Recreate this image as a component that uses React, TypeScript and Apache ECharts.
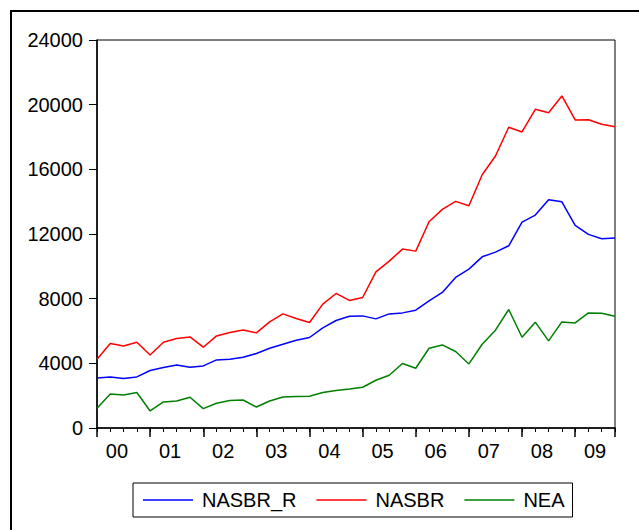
import React, { useEffect, useRef } from "react";
import * as echarts from "echarts";

const yearLabels = ["00", "01", "02", "03", "04", "05", "06", "07", "08", "09"];
const yTicks = { min: 0, max: 24000, interval: 4000 };

const nasbrR = [
  3096, 3158, 3059, 3158, 3554, 3740, 3901, 3758, 3839, 4211,
  4254, 4378, 4607, 4935, 5183, 5430, 5598, 6192, 6650, 6916,
  6935, 6749, 7059, 7121, 7288, 7864, 8384, 9313, 9827, 10588,
  10879, 11270, 12737, 13170, 14118, 13994, 12532, 11975, 11703, 11746,
];
const nasbr = [
  4254, 5226, 5078, 5307, 4520, 5307, 5535, 5635, 4997, 5697,
  5907, 6068, 5883, 6564, 7059, 6774, 6526, 7660, 8322, 7889,
  8074, 9660, 10322, 11065, 10941, 12756, 13523, 14018, 13746, 15666,
  16824, 18601, 18310, 19715, 19505, 20539, 19053, 19072, 18786, 18638,
];
const nea = [
  1220, 2105, 2043, 2192, 1053, 1610, 1672, 1901, 1201, 1529,
  1697, 1734, 1300, 1672, 1920, 1944, 1963, 2192, 2316, 2415,
  2520, 2954, 3263, 3988, 3697, 4935, 5139, 4731, 3963, 5183,
  6050, 7331, 5616, 6545, 5387, 6564, 6502, 7121, 7102, 6916,
];

const seriesDefs = [
  { name: "NASBR_R", color: "#0000ff", values: nasbrR },
  { name: "NASBR", color: "#ff0000", values: nasbr },
  { name: "NEA", color: "#008000", values: nea },
];

const FONT = "Arial, 'Liberation Sans', sans-serif";

export default function App() {
  const ref = useRef<HTMLDivElement>(null);
  useEffect(() => {
    if (!ref.current) return;
    const chart = echarts.init(ref.current, null, { renderer: "svg" });
    const lastIdx = nasbr.length - 1;
    chart.setOption({
      animation: false,
      backgroundColor: "#ffffff",
      textStyle: { fontFamily: FONT },
      grid: {
        left: 97,
        top: 40,
        width: 518,
        height: 388,
        show: true,
        borderColor: "#000",
        borderWidth: 1,
        backgroundColor: "transparent",
      },
      xAxis: [
        {
          type: "value",
          min: 0,
          max: lastIdx,
          interval: 1,
          axisLine: { show: true, onZero: false, lineStyle: { color: "#000", width: 1.5 } },
          axisTick: { show: true, length: 4, lineStyle: { color: "#000", width: 1 } },
          axisLabel: { show: false },
          splitLine: { show: false },
        },
        {
          type: "value",
          min: 0,
          max: lastIdx,
          interval: 4,
          position: "bottom",
          axisLine: { show: false, onZero: false },
          axisTick: { show: true, length: 9, lineStyle: { color: "#000", width: 1.5 } },
          axisLabel: { show: false },
          splitLine: { show: false },
        },
        {
          type: "value",
          min: 0,
          max: lastIdx,
          interval: 0.5,
          position: "bottom",
          axisLine: { show: false, onZero: false },
          axisTick: { show: false },
          splitLine: { show: false },
          axisLabel: {
            show: true,
            margin: 13,
            fontSize: 20,
            color: "#000",
            fontFamily: FONT,
            showMinLabel: true,
            showMaxLabel: true,
            formatter: (v: number) => {
              const k = (v - 1.5) / 4;
              return Number.isInteger(k) && k >= 0 && k < yearLabels.length ? yearLabels[k] : "";
            },
          },
        },
      ],
      yAxis: {
        type: "value",
        min: yTicks.min,
        max: yTicks.max,
        interval: yTicks.interval,
        axisLine: { show: true, lineStyle: { color: "#000", width: 1.5 } },
        axisTick: { show: true, length: 8, lineStyle: { color: "#000", width: 1 } },
        axisLabel: {
          margin: 14,
          fontSize: 20,
          color: "#000",
          fontFamily: FONT,
          formatter: (v: number) => String(v),
        },
        splitLine: { show: false },
      },
      legend: {
        left: 133,
        top: 483,
        orient: "horizontal",
        padding: [7, 8, 7, 10],
        itemGap: 20,
        itemWidth: 50,
        itemHeight: 1.5,
        icon: "rect",
        borderColor: "#000",
        borderWidth: 1,
        textStyle: { fontSize: 20, color: "#000", fontFamily: FONT, padding: [0, 0, 0, 4], lineHeight: 20 },
        data: seriesDefs.map((s) => s.name),
      },
      graphic: [
        {
          type: "rect",
          silent: true,
          shape: { x: 11, y: 11, width: 700, height: 600 },
          style: { fill: "none", stroke: "#000", lineWidth: 2 },
        },
      ],
      series: seriesDefs.map((s) => ({
        name: s.name,
        type: "line",
        xAxisIndex: 0,
        showSymbol: false,
        symbol: "none",
        color: s.color,
        lineStyle: { color: s.color, width: 1.5 },
        data: s.values.map((v, i) => [i, v]),
      })),
    });
    return () => chart.dispose();
  }, []);
  return <div ref={ref} style={{ position: "fixed", left: 0, top: 0, width: 639, height: 530 }} />;
}
